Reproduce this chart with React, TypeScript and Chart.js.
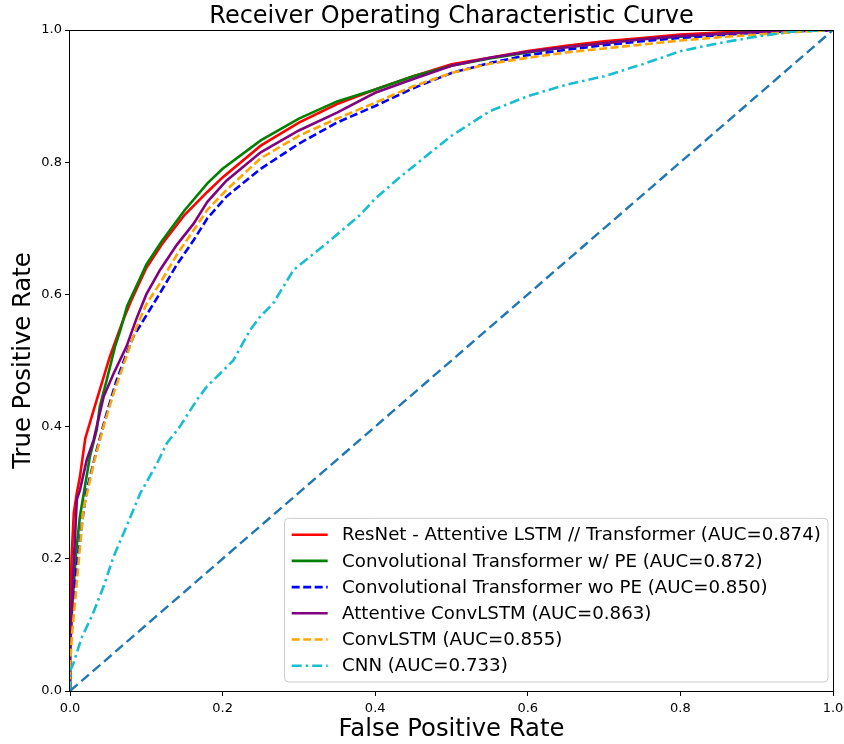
import React, { useEffect, useRef } from "react";
import { Chart, registerables } from "chart.js";

Chart.register(...registerables);

const FONT = "'DejaVu Sans', 'Liberation Sans', sans-serif";

const titleText = "Receiver Operating Characteristic Curve";
const xAxisTitle = "False Positive Rate";
const yAxisTitle = "True Positive Rate";
const tickValues = [0, 0.2, 0.4, 0.6, 0.8, 1.0];

const seriesLabels = [
  "ResNet - Attentive LSTM // Transformer (AUC=0.874)",
  "Convolutional Transformer w/ PE (AUC=0.872)",
  "Convolutional Transformer wo PE (AUC=0.850)",
  "Attentive ConvLSTM (AUC=0.863)",
  "ConvLSTM (AUC=0.855)",
  "CNN (AUC=0.733)",
];
const seriesColors = ["#ff0000", "#008000", "#0000ff", "#800080", "#ffa500", "#17becf"];
const seriesDashes: number[][] = [[], [], [8, 3.5], [], [8, 3.5], [10, 4, 2.5, 4]];
const diagonalColor = "#1f77b4";

const resnetFpr = [0, 0, 0.002, 0.005, 0.009, 0.013, 0.02, 0.031, 0.042, 0.052, 0.063, 0.07, 0.08, 0.1, 0.12, 0.15, 0.18, 0.2, 0.25, 0.3, 0.35, 0.4, 0.45, 0.5, 0.55, 0.6, 0.65, 0.7, 0.75, 0.8, 0.85, 0.9, 0.95, 1.0];
const resnetTpr = [0, 0.08, 0.2, 0.27, 0.3, 0.324, 0.382, 0.425, 0.467, 0.505, 0.54, 0.562, 0.59, 0.64, 0.675, 0.72, 0.755, 0.777, 0.825, 0.86, 0.888, 0.91, 0.93, 0.948, 0.958, 0.968, 0.976, 0.983, 0.988, 0.993, 0.996, 0.998, 0.999, 1.0];

const convTrPeFpr = [0, 0, 0.003, 0.008, 0.013, 0.026, 0.035, 0.039, 0.048, 0.059, 0.066, 0.075, 0.09, 0.1, 0.12, 0.15, 0.18, 0.2, 0.25, 0.3, 0.35, 0.4, 0.45, 0.5, 0.55, 0.6, 0.65, 0.7, 0.75, 0.8, 0.85, 0.9, 0.95, 1.0];
const convTrPeTpr = [0, 0.06, 0.13, 0.21, 0.264, 0.354, 0.395, 0.43, 0.47, 0.521, 0.546, 0.583, 0.62, 0.645, 0.68, 0.727, 0.768, 0.79, 0.833, 0.866, 0.892, 0.91, 0.93, 0.946, 0.957, 0.966, 0.974, 0.98, 0.986, 0.99, 0.994, 0.997, 0.999, 1.0];

const convTrNoPeFpr = [0, 0, 0.003, 0.009, 0.0175, 0.022, 0.035, 0.048, 0.061, 0.074, 0.083, 0.092, 0.118, 0.14, 0.162, 0.18, 0.205, 0.25, 0.3, 0.35, 0.4, 0.45, 0.5, 0.55, 0.6, 0.65, 0.7, 0.75, 0.8, 0.85, 0.9, 0.95, 1.0];
const convTrNoPeTpr = [0, 0.05, 0.12, 0.19, 0.27, 0.304, 0.365, 0.42, 0.47, 0.51, 0.536, 0.553, 0.602, 0.645, 0.682, 0.715, 0.748, 0.79, 0.828, 0.86, 0.885, 0.912, 0.935, 0.95, 0.962, 0.97, 0.977, 0.983, 0.988, 0.992, 0.996, 0.998, 1.0];

const attConvLstmFpr = [0, 0, 0.003, 0.009, 0.013, 0.022, 0.031, 0.044, 0.057, 0.074, 0.087, 0.1, 0.118, 0.14, 0.162, 0.18, 0.205, 0.25, 0.3, 0.35, 0.4, 0.45, 0.5, 0.55, 0.6, 0.65, 0.7, 0.75, 0.8, 0.85, 0.9, 0.95, 1.0];
const attConvLstmTpr = [0, 0.05, 0.15, 0.29, 0.304, 0.35, 0.38, 0.445, 0.48, 0.521, 0.563, 0.6, 0.637, 0.675, 0.707, 0.74, 0.772, 0.815, 0.848, 0.875, 0.905, 0.926, 0.946, 0.958, 0.967, 0.974, 0.98, 0.986, 0.991, 0.994, 0.997, 0.999, 1.0];

const convLstmFpr = [0, 0, 0.003, 0.007, 0.0175, 0.031, 0.044, 0.057, 0.074, 0.087, 0.1, 0.118, 0.14, 0.162, 0.18, 0.205, 0.25, 0.3, 0.35, 0.4, 0.45, 0.5, 0.55, 0.6, 0.65, 0.7, 0.75, 0.8, 0.85, 0.9, 0.95, 1.0];
const convLstmTpr = [0, 0.04, 0.09, 0.14, 0.274, 0.344, 0.4, 0.45, 0.506, 0.55, 0.585, 0.617, 0.66, 0.697, 0.728, 0.758, 0.806, 0.84, 0.866, 0.89, 0.915, 0.935, 0.949, 0.958, 0.966, 0.972, 0.978, 0.984, 0.989, 0.993, 0.997, 1.0];

const cnnFpr = [0, 0, 0.004, 0.015, 0.03, 0.044, 0.057, 0.074, 0.092, 0.114, 0.127, 0.144, 0.166, 0.179, 0.214, 0.236, 0.249, 0.266, 0.293, 0.336, 0.38, 0.4, 0.433, 0.5, 0.55, 0.6, 0.65, 0.7, 0.75, 0.8, 0.85, 0.9, 0.95, 1.0];
const cnnTpr = [0, 0.03, 0.04, 0.08, 0.117, 0.158, 0.203, 0.249, 0.299, 0.344, 0.375, 0.4, 0.44, 0.46, 0.5, 0.546, 0.566, 0.586, 0.637, 0.677, 0.72, 0.745, 0.778, 0.84, 0.877, 0.9, 0.917, 0.93, 0.948, 0.968, 0.98, 0.99, 0.998, 1.0];

const diagonalFpr = [0, 1];
const diagonalTpr = [0, 1];

const seriesFpr = [resnetFpr, convTrPeFpr, convTrNoPeFpr, attConvLstmFpr, convLstmFpr, cnnFpr];
const seriesTpr = [resnetTpr, convTrPeTpr, convTrNoPeTpr, attConvLstmTpr, convLstmTpr, cnnTpr];

const toPoints = (xs: number[], ys: number[]) => xs.map((x, i) => ({ x, y: ys[i] }));

const titlePlugin = {
  id: "customTitle",
  afterDraw(chart: any) {
    const { ctx, chartArea } = chart;
    ctx.save();
    ctx.font = `24px ${FONT}`;
    ctx.fillStyle = "#000";
    ctx.textAlign = "center";
    ctx.textBaseline = "alphabetic";
    ctx.fillText(titleText, (chartArea.left + chartArea.right) / 2, 23);
    ctx.restore();
  },
};

const framePlugin = {
  id: "frame",
  afterDatasetsDraw(chart: any) {
    const { ctx, chartArea } = chart;
    ctx.save();
    ctx.strokeStyle = "#000";
    ctx.lineWidth = 1;
    ctx.setLineDash([]);
    const l = Math.round(chartArea.left) - 0.5;
    const t = Math.round(chartArea.top) + 0.5;
    const r = Math.round(chartArea.right) + 0.5;
    const b = Math.round(chartArea.bottom) + 0.5;
    ctx.strokeRect(l, t, r - l, b - t);
    ctx.restore();
  },
};

const legendPlugin = {
  id: "boxLegend",
  afterDraw(chart: any) {
    const { ctx, chartArea } = chart;
    const fs = 18.2;
    const pad = 7.2;
    const handleLen = 36;
    const textPad = 14.4;
    const rowPitch = 26.2;
    const items = chart.data.datasets.filter((d: any) => !d.hideFromLegend);
    ctx.save();
    ctx.font = `${fs}px ${FONT}`;
    let maxW = 0;
    items.forEach((d: any) => {
      maxW = Math.max(maxW, ctx.measureText(d.label).width);
    });
    const w = pad * 2 + handleLen + textPad + maxW;
    const h = pad * 2 + (items.length - 1) * rowPitch + fs;
    const x0 = chartArea.right - 5 - w;
    const y0 = chartArea.bottom - 9 - h;
    ctx.beginPath();
    (ctx as any).roundRect(x0, y0, w, h, 4);
    ctx.fillStyle = "rgba(255,255,255,0.8)";
    ctx.fill();
    ctx.strokeStyle = "#cccccc";
    ctx.lineWidth = 1;
    ctx.stroke();
    items.forEach((d: any, i: number) => {
      const cy = y0 + pad + fs / 2 + i * rowPitch;
      ctx.beginPath();
      ctx.setLineDash(d.borderDash || []);
      ctx.strokeStyle = d.borderColor;
      ctx.lineWidth = d.borderWidth;
      ctx.lineCap = "butt";
      ctx.moveTo(x0 + pad, cy);
      ctx.lineTo(x0 + pad + handleLen, cy);
      ctx.stroke();
      ctx.setLineDash([]);
      ctx.fillStyle = "#000";
      ctx.textAlign = "left";
      ctx.textBaseline = "middle";
      ctx.fillText(d.label, x0 + pad + handleLen + textPad, cy + 1);
    });
    ctx.restore();
  },
};

export default function App() {
  const canvasRef = useRef<HTMLCanvasElement | null>(null);

  useEffect(() => {
    if (!canvasRef.current) return;
    const datasets: any[] = seriesLabels.map((label, i) => ({
      label,
      data: toPoints(seriesFpr[i], seriesTpr[i]),
      borderColor: seriesColors[i],
      backgroundColor: seriesColors[i],
      borderWidth: 2.6,
      borderDash: seriesDashes[i],
      pointRadius: 0,
      tension: 0,
      fill: false,
      order: 10 - i,
    }));
    datasets.push({
      label: "diagonal",
      hideFromLegend: true,
      data: toPoints(diagonalFpr, diagonalTpr),
      borderColor: diagonalColor,
      backgroundColor: diagonalColor,
      borderWidth: 2.4,
      borderDash: [10, 5],
      pointRadius: 0,
      tension: 0,
      fill: false,
      order: 1,
    });

    const axisCommon = (title: string, isX: boolean) => ({
      type: "linear" as const,
      min: 0,
      max: 1,
      afterBuildTicks(scale: any) {
        scale.ticks = tickValues.map((v) => ({ value: v }));
      },
      afterFit(scale: any) {
        if (isX) scale.height = 53;
        else scale.width = 70;
        scale.paddingLeft = 0;
        scale.paddingRight = 0;
        scale.paddingTop = 0;
        scale.paddingBottom = 0;
      },
      ticks: {
        color: "#000",
        font: { family: FONT, size: 13 },
        padding: isX ? 5 : 3,
        callback: (v: any) => Number(v).toFixed(1),
        maxRotation: 0,
        autoSkip: false,
      },
      grid: {
        display: true,
        drawOnChartArea: false,
        drawTicks: true,
        tickLength: 5,
        color: "#000",
        tickColor: "#000",
        tickWidth: 1,
      },
      border: { display: false },
      title: {
        display: true,
        text: title,
        color: "#000",
        font: { family: FONT, size: 24.3 },
        padding: isX ? { top: 0, bottom: 0 } : { top: 9, bottom: 0 },
      },
    });

    const chart = new Chart(canvasRef.current, {
      type: "line",
      data: { datasets },
      options: {
        animation: false,
        responsive: false,
        devicePixelRatio: 1,
        layout: { padding: { top: 30, right: 11, left: 0, bottom: 0 } },
        plugins: {
          legend: { display: false },
          tooltip: { enabled: false },
          title: { display: false },
        },
        scales: {
          x: axisCommon(xAxisTitle, true),
          y: axisCommon(yAxisTitle, false),
        },
      },
      plugins: [titlePlugin, framePlugin, legendPlugin],
    });
    return () => chart.destroy();
  }, []);

  return (
    <div style={{ position: "absolute", left: 0, top: 0, width: 844, height: 744, background: "#fff" }}>
      <canvas ref={canvasRef} width={844} height={744} style={{ display: "block" }} />
    </div>
  );
}
